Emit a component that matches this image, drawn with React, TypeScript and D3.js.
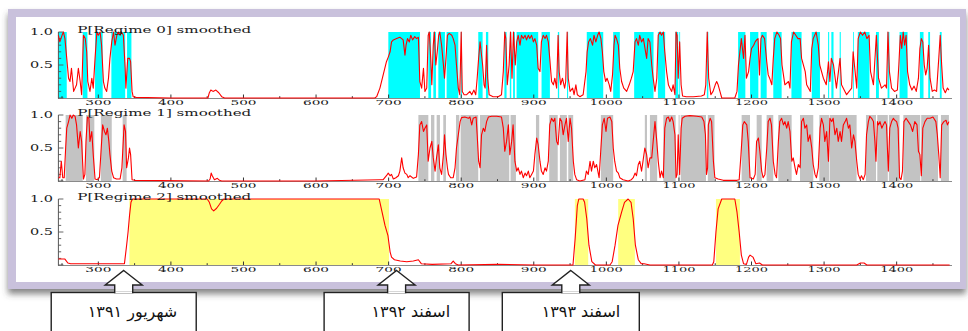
import React from 'react';
import * as d3 from 'd3';

type Pt = [number, number];

const regime0: Pt[] = [[245,.95],[247,.85],[250,.95],[252,1],[254,.9],[256.5,.6],[259,.3],[261,.25],[263,.45],[266,.1],[268,.15],[270,.2],[272.5,.45],[275,.25],[277,.05],[279.5,.95],[282,.9],[284,.7],[285.5,.25],[288.5,.1],[291,.3],[293,.15],[295.5,.6],[298,1],[300,.95],[302.5,1],[304.5,.8],[307,.25],[309,.15],[311.5,.1],[314,.3],[316,.6],[318.5,.85],[321,1],[323,.8],[325.5,.95],[327.5,1],[330,.95],[332,1],[334.5,.95],[337,.45],[338,.15],[340.5,.6],[343,.6],[344.5,.55],[346.5,.1],[348,.02],[352,.01],[400,0],[451,0],[453,.08],[455,.12],[458,.1],[462,.12],[466,.08],[470,.02],[474,0],[600,0],[681,0],
[683.5,.02],[688,.15],[692.5,.35],[697,.55],[699.5,.62],[702,.7],[704,.85],[706.5,.88],[711,.9],[715.5,.92],[718,.9],[720,.88],[722.5,.65],[724,.8],[726,.9],[728.5,.85],[730.5,.95],[733,.88],[736,.93],[738.5,.9],[741,.92],[743,.25],[745.5,.15],[748,.45],[750,.1],[752.5,.15],[754.5,.95],[756,1],[758,.6],[759.5,.2],[761.5,.8],[763,1],[765,.5],[767,.7],[769,.95],[770.5,1],[773,.8],[775.5,.5],[777,.3],[779,.6],[781,.95],[783.5,.98],[787,.95],[789,.9],[791.5,.8],[793.5,.5],[796,.15],[798,.05],[800,1],[801.5,.1],[804,.05],[807.5,.05],[812,.1],[814.5,.05],[817.5,.12],[820,.05],[822,.3],[824,.6],[826,.85],[827.5,.7],[829.5,.5],[831.5,.2],[833,.15],[835,.8],[836.5,.3],[838.5,.05],[844,.02],[851,.02],[855.5,.05],[858,.4],[860,1],[861.5,.9],[863.5,.2],[866,.5],[868,1],[870,.3],[872,1],[874.5,.5],[876.5,.85],[878.5,.95],[881,.8],[883,.95],[885.5,.9],[888,.95],[890,.88],[892.5,.95],[894.5,.9],[897,.95],[899.5,.85],[901.5,.9],[904,.8],[906,.45],[908.5,.4],[910.5,.85],[913,.95],[915.5,.9],[917.5,.95],[920,.85],[922,.6],[924.5,.25],[927,.2],[929,.3],[931.5,.15],[933.5,.95],[935,.4],[937,.2],[939.5,.3],[942.5,.15],[944,.25],[946,1],[947.5,.3],[950,.1],[953.5,.15],[955.5,.05],[958,.2],[960,.05],[963.5,.02],[968,.05],[972,.4],[973.5,.7],[975.5,.85],[978,.9],[981,.8],[983,.95],[985.5,.85],[988,.95],[990,1],[992.5,.9],[994.5,.7],[996.5,.4],[999,.25],[1001,.3],[1004,.2],[1006,.1],[1008.5,.35],[1010.5,.8],[1012,.95],[1014,.9],[1016.5,.8],[1018.5,.45],[1021,.25],[1024,.15],[1028,.1],[1031.5,.2],[1034.5,.3],[1037,.4],[1039.5,.85],[1041.5,.9],[1044,.8],[1046,.95],[1048.5,.85],[1051,.9],[1055.5,.6],[1057.5,.9],[1060,.85],[1062.5,.5],[1064.5,.3],[1067,.1],[1069.5,.3],[1071.5,.95],[1074,1],[1076,.95],[1078.5,1],[1080.5,.7],[1083,.4],[1085.5,.2],[1087.5,.15],[1090,.1],[1092,.2],[1094.5,.05],[1096,1],[1097.5,.95],[1099,.3],[1101,.85],[1103,.2],[1105,.03],[1110,.02],[1120,.02],[1131,.03],[1135,.05],[1137,.2],[1139,1],[1141,.3],[1144,.05],[1147,.1],[1150,.2],[1152,.25],[1154,.2],[1157,.08],[1159,0],[1177,0],[1180,.1],[1182,.5],[1184,.7],[1186,.9],[1189,.6],[1191,.95],[1193,.3],[1196,.4],[1198,.6],[1200,.75],[1203,.8],[1205,.85],[1207,.88],[1209,.9],[1211,.35],[1213,.9],[1215,.95],[1218,.9],[1221,.55],[1223,.35],[1225,.3],[1228,.2],[1230,.6],[1232,.9],[1235,1],[1238,.95],[1240,.9],[1242,.5],[1246,.2],[1251,.25],[1253,.15],[1255,.85],[1258,1],[1261,.95],[1264,.9],[1267,.9],[1269,.6],[1274,.4],[1276,.2],[1281,.1],[1283,.75],[1285,.9],[1289,1],[1292,.8],[1294,.5],[1299,.3],[1303,.2],[1306,.55],[1308,.25],[1310,.6],[1313,.5],[1317,.15],[1322,.6],[1324,.2],[1331,.05],[1338,.15],[1340,.7],[1345,.15],[1347,.9],[1350,1],[1353,.95],[1356,1],[1359,.9],[1362,.95],[1364,.4],[1368,.2],[1372,.95],[1375,.3],[1379,.15],[1384,.2],[1386,.15],[1388,1],[1390,.4],[1393,.15],[1397,.1],[1401,.12],[1403,.5],[1405,.95],[1407,.75],[1409,1],[1411,.8],[1413,.95],[1415,.4],[1418,.2],[1421,.12],[1424,.18],[1427,.1],[1430,.3],[1432,.75],[1434,.9],[1436,.85],[1438,.5],[1440,.35],[1442,.45],[1444,.8],[1446,.3],[1449,.1],[1452,.12],[1455,.1],[1458,.6],[1460,.95],[1462,.5],[1464,.15],[1467,.08],[1470,.15],[1472,.12]];

const regime1: Pt[] = [[245,.05],[247,.05],[249,.3],[251,.05],[253,.05],[255,.5],[256.5,.8],[259,.9],[261,1],[263.5,.95],[265.5,1],[268,.98],[270,.85],[272.5,.5],[275,.75],[277,.6],[279.5,.03],[281.5,.1],[283,.6],[285,.97],[287,.95],[288.5,.6],[291,.75],[293,.4],[295.5,.03],[298.5,.02],[301.5,.05],[304,.5],[306,.85],[308.5,.75],[310.5,.7],[312.5,.8],[314.5,.6],[316,.4],[318.5,.15],[321,.05],[325,.03],[330,.03],[332.5,.2],[335.5,.85],[337.5,.75],[339,.2],[341.5,.35],[343,.5],[344.5,.4],[346.5,.02],[350,.01],[452,0],[454,.03],[455.5,.12],[457,.08],[460,.02],[464,.04],[467,.01],[470,0],[600,0],[688,.02],[692.5,.02],[697,.08],[699.5,.12],[702,.08],[704,.1],[706.5,.03],[710,.05],[713.5,.08],[715.5,.15],[718,.35],[720,.2],[722.5,.12],[725,.1],[727,.05],[729.5,.08],[734,.04],[738.5,.06],[741,.4],[743,.85],[745.5,.9],[748,.75],[750,.8],[752.5,.85],[754.5,.3],[757,.5],[759.5,.6],[761.5,.35],[764,.15],[766,.35],[768.5,.55],[770.5,.2],[773,.1],[775.5,.4],[777,.7],[779,.4],[781,.2],[782.5,.1],[785.5,.05],[789,.05],[791.5,.2],[793.5,.5],[796,.7],[798.5,.9],[800.5,.96],[805,.97],[810,.95],[812,.97],[814.5,.85],[816.5,.95],[820.5,.97],[822,.7],[824,.3],[826,.2],[828,.7],[830.5,.8],[832.5,.75],[835,.9],[837.5,.97],[842,.98],[849,.98],[855.5,.97],[858,.8],[860,.45],[862.5,.6],[865,.85],[867,.4],[869.5,.6],[871.5,.85],[874,.3],[876.5,.15],[878.5,.2],[881,.1],[883,.15],[885.5,.05],[888,.12],[890,.08],[892.5,.15],[894.5,.05],[897,.1],[899.5,.15],[901.5,.4],[904,.65],[906,.55],[908.5,.3],[910.5,.15],[913,.1],[915.5,.2],[917.5,.15],[920,.3],[922,.85],[924.5,.95],[927,.9],[929,.95],[931.5,.6],[933.5,.55],[936,.95],[938.5,.9],[940.5,.7],[943,.85],[945,.95],[947.5,.6],[950,.95],[952,.8],[954.5,.3],[956.5,.1],[959,.02],[963.5,0],[970.5,.02],[972.5,.15],[975,.1],[977.5,.3],[979.5,.15],[982,.3],[984,.2],[986.5,.25],[990,.05],[992.5,.5],[994.5,.85],[997,.95],[999.5,.75],[1001.5,.95],[1005,.97],[1007.5,.9],[1009.5,.5],[1011.5,.3],[1014,.15],[1016.5,.12],[1018.5,.05],[1023,.02],[1030,0],[1034.5,.02],[1037,.05],[1039.5,.12],[1041.5,.08],[1044,.25],[1046,.3],[1048.5,.15],[1050.5,.3],[1053,.5],[1055.5,.4],[1057.5,.2],[1060,.35],[1062.5,.35],[1064.5,.6],[1067,.9],[1069.5,.6],[1071.5,.3],[1074,.05],[1076,.15],[1078.5,.05],[1080.5,.8],[1083,.95],[1085.5,.97],[1087.5,.9],[1090,.97],[1092,.9],[1094.5,.7],[1096,.05],[1097.5,.1],[1099,.7],[1101,.1],[1103,.8],[1104.5,.95],[1108.5,.98],[1115,.99],[1124.5,.98],[1131.5,.97],[1134.5,.9],[1136.5,.7],[1138,.1],[1139.5,.2],[1140.5,.85],[1143,.95],[1145,.9],[1147.5,.3],[1149.5,.05],[1154,.03],[1161,.01],[1180,.01],[1183,.02],[1185.5,.4],[1188,.85],[1190,.9],[1193.5,.85],[1195.5,.6],[1198,.05],[1202.5,.03],[1205,.1],[1207,.6],[1209.5,.65],[1211.5,.45],[1214,.15],[1216,.05],[1218.5,.1],[1221,.5],[1223,.9],[1225.5,.95],[1227.5,.85],[1230,.3],[1232.5,.1],[1234.5,.05],[1237,.6],[1239,.9],[1241.5,.95],[1244,.85],[1246,.9],[1248.5,.8],[1250.5,.9],[1253,.75],[1255.5,.3],[1257.5,.35],[1260,.2],[1262,.1],[1264.5,.25],[1267,.2],[1269,.9],[1271.5,.95],[1273.5,.8],[1276,.85],[1278,.6],[1280.5,.7],[1283,.5],[1285,.25],[1287.5,.1],[1289.5,.05],[1292,.2],[1294.5,.8],[1296.5,.95],[1299,.85],[1301,.6],[1303.5,.75],[1306,.3],[1308,.95],[1310.5,.9],[1312.5,.95],[1315,.7],[1317.5,.8],[1319.5,.6],[1322,.75],[1324,.6],[1326.5,.85],[1329,.9],[1331,.95],[1333.5,.8],[1335.5,.85],[1338,.5],[1340.5,.7],[1342.5,.6],[1345,.3],[1347,.1],[1349.5,.03],[1351.5,.08],[1354,.02],[1356.5,.1],[1358.5,.7],[1361,.9],[1363,.98],[1365.5,.95],[1368,.9],[1370,.6],[1371.5,.3],[1373.5,.9],[1375,.85],[1377,.9],[1379.5,.8],[1381.5,.85],[1384,.9],[1386,.85],[1388.5,.15],[1390.5,.8],[1393,.9],[1395.5,.95],[1397.5,.92],[1400,.9],[1402,.8],[1404,.05],[1406,.02],[1408,.15],[1410,.9],[1413,.95],[1416,.9],[1419,.85],[1422,.75],[1425,.9],[1428,.85],[1430,.45],[1432,.4],[1434,.08],[1436,.8],[1439,.9],[1442,.95],[1446,.95],[1450,.97],[1454,.9],[1456,.7],[1458,.4],[1460,.05],[1462,.85],[1465,.9],[1468,.92],[1470,.85],[1472,.9]];

const regime2: Pt[] = [[245,.09],[254,.09],[258,.03],[262,.02],[300,.02],[336,.02],[339,.3],[341,.5],[343,.75],[345,.95],[347,1],[450,1],[453,.95],[456,.85],[459,.82],[463,.86],[467,.92],[470,.97],[473,1],[687,1],[690,.85],[695,.6],[699,.45],[702,.2],[704,.12],[708,.08],[716,.06],[725,.05],[734,.06],[741,.08],[745,.02],[760,.01],[786,.02],[789,.06],[792,.02],[796,0],[850,.01],[900,0],[954,0],[957,.4],[960,.9],[962,1],[968,1],[970,.95],[973,.7],[976,.3],[980,.05],[985,0],[1005,0],[1008,.05],[1012,.3],[1016,.6],[1021,.8],[1025,.95],[1030,1],[1034,.95],[1037,.7],[1040,.3],[1044,.08],[1048,.02],[1052,.02],[1060,0],[1146,0],[1148,.05],[1151,.5],[1154,.85],[1159,1],[1177,1],[1180,.8],[1183,.5],[1186,.15],[1189,.02],[1193,.01],[1196,.12],[1198,.15],[1202,.12],[1206,.02],[1211,.03],[1215,0],[1345,0],[1350,.03],[1355,.03],[1359,0],[1473,0]];

// classified regime spans (shaded): [from, to]
const shade0: Pt[] = [[245,256.5],[278.5,285],[295.5,306],[318,337],[339.6,345.6],[699.6,743.2],[754.7,758.5],[761.6,765.2],[768.5,777.6],[779.9,796],[799.5,801],[823.5,829.5],[834.1,837.3],[859.5,862.5],[867,869],[871.5,874],[876.3,906.1],[910.7,922.2],[933.2,935],[945.8,947.3],[973,995.7],[1009.4,1018.6],[1038.3,1065],[1071,1081],[1095,1099],[1100.5,1101.5],[1138.5,1140.5],[1181.5,1191.5],[1198,1209.4],[1212.6,1220.9],[1230,1241.5],[1255,1269],[1283,1294.3],[1305.5,1307],[1310,1313],[1321.5,1323],[1340,1341],[1346.5,1362.5],[1371.5,1375.5],[1387.5,1390],[1404,1415],[1432,1437],[1443.5,1446],[1459.5,1462]];
const shade1: Pt[] = [[255,278.5],[283,294.5],[303.5,318.5],[333.5,339],[741,754.7],[758.4,763],[766.2,770.7],[775.3,779],[792.8,797.4],[799.2,823.5],[825.8,866.2],[868,875.4],[903,907.5],[921.3,933],[936,945.5],[947.5,954.3],[992.4,1009.4],[1053,1056],[1060,1070],[1078.5,1095.5],[1099.5,1101],[1102.5,1137.3],[1139.8,1149],[1186.4,1197.9],[1207.1,1214],[1220.8,1230],[1236.9,1255.3],[1266.8,1285.1],[1293.4,1307.2],[1308.1,1344.8],[1357.7,1371.5],[1373.3,1387.8],[1389.3,1404],[1409.2,1432.5],[1433.8,1457],[1461,1472]];
const shade2: Pt[] = [[342.8,700.5],[956.6,975],[1016.3,1039.3],[1151,1184]];

const titles = ['P[Regime 0] smoothed', 'P[Regime 1] smoothed', 'P[Regime 2] smoothed'];
const xTickValues = [300, 400, 500, 600, 700, 800, 900, 1000, 1100, 1200, 1300, 1400];
const yTickLabels = ['0.5', '1.0'];
const calloutDates = [335, 711, 951];
const calloutLabels = ['شهریور ۱۳۹۱', 'اسفند ۱۳۹۲', 'اسفند ۱۳۹۳'];

const W = 968;
const H = 331;
const x = d3.scaleLinear().domain([245, 1475]).range([58.4, 951.1]);
const panelTops = [32, 115, 199];
const panelH = 66;
const shadeColors = ['#00ffff', '#c3c3c3', '#ffff80'];
const serif = "'DejaVu Serif', 'Liberation Serif', serif";

function Panel({ idx, series, shades }: { idx: number; series: Pt[]; shades: Pt[] }) {
  const top = panelTops[idx];
  const y = d3.scaleLinear().domain([0, 1]).range([top + panelH, top]);
  const line = d3.line<Pt>().x(d => x(d[0])).y(d => y(d[1]));
  const y0 = y(0);
  const yTicks = d3.range(0, 11).map(i => i / 10);
  const xMinor = d3.range(250, 1451, 50);
  return (
    <g>
      {shades.map(([a, b], i) => (
        <rect key={i} x={x(a)} y={y(1)} width={Math.max(0.8, x(b) - x(a))} height={y0 - y(1)} fill={shadeColors[idx]} />
      ))}
      <line x1={58} x2={952} y1={y0 + 0.5} y2={y0 + 0.5} stroke="#8a8a8a" strokeWidth={1} />
      <line x1={58.4} x2={58.4} y1={y(1)} y2={y0 + 0.5} stroke="#555" strokeWidth={1} />
      {yTicks.map((v, i) => {
        const major = i === 0 || i === 5 || i === 10;
        return <line key={i} x1={58.4} x2={58.4 + (major ? 5 : 2.8)} y1={y(v)} y2={y(v)} stroke="#555" strokeWidth={0.9} />;
      })}
      {xMinor.map(v => (
        <line key={v} x1={x(v)} x2={x(v)} y1={y0} y2={y0 - (v % 100 === 0 ? 3.5 : 1.8)} stroke="#333" strokeWidth={1} />
      ))}
      <path d={line(series) || ''} fill="none" stroke="#ff0000" strokeWidth={1.1} strokeLinejoin="round" />
      <text x={77.3} y={top + 0.5} fontFamily={serif} fontSize={9} fill="#1a1a1a" textLength={174} lengthAdjust="spacingAndGlyphs">{titles[idx]}</text>
      {xTickValues.map(v => {
        const s = String(v);
        return (
          <text key={v} x={x(v)} y={y0 + 7.2} textAnchor="middle" fontFamily={serif} fontSize={8} fill="#1a1a1a" textLength={s.length === 3 ? 26 : 33} lengthAdjust="spacingAndGlyphs">{s}</text>
        );
      })}
      {yTickLabels.map(s => (
        <text key={s} x={53} y={y(parseFloat(s)) + 3.2} textAnchor="end" fontFamily={serif} fontSize={9} fill="#1a1a1a" textLength={23} lengthAdjust="spacingAndGlyphs">{s}</text>
      ))}
    </g>
  );
}

function Callout({ date, label, width }: { date: number; label: string; width: number }) {
  const tx = x(date);
  const tipY = 270.5, headY = 285, boxY = 292.5;
  const hw = 18.5, sw = 9;
  const pts = [
    [tx, tipY], [tx + hw, headY], [tx + sw, headY], [tx + sw, boxY],
    [tx - sw, boxY], [tx - sw, headY], [tx - hw, headY],
  ].map(p => p.join(',')).join(' ');
  return (
    <g>
      <rect x={tx - width / 2} y={boxY} width={width} height={60} fill="#fff" stroke="#222" strokeWidth={1.4} />
      <polygon points={pts} fill="#fff" stroke="#222" strokeWidth={1.4} strokeLinejoin="miter" />
      <line x1={tx - sw + 0.7} x2={tx + sw - 0.7} y1={boxY} y2={boxY} stroke="#fff" strokeWidth={1.6} />
      <text x={tx + width / 2 - 19} y={317} textAnchor="end" fontFamily="'DejaVu Sans', sans-serif" fontSize={16} fill="#111">{label}</text>
    </g>
  );
}

export default function App() {
  const seriesList = [regime0, regime1, regime2];
  const shadeList = [shade0, shade1, shade2];
  const widths = [145, 145, 137];
  return (
    <svg width={W} height={H} viewBox={`0 0 ${W} ${H}`} style={{ position: 'absolute', left: 0, top: 0, background: '#fff' }}>
      <defs>
        <filter id="frameShadow" x="-5%" y="-5%" width="110%" height="120%">
          <feDropShadow dx="0" dy="5" stdDeviation="3" floodColor="#444" floodOpacity="0.65" />
        </filter>
      </defs>
      <rect x={8} y={9} width={958} height={280} fill="#c9c1dc" filter="url(#frameShadow)" />
      <rect x={16} y={17} width={944} height={265} fill="#ffffff" />
      {seriesList.map((s, i) => (
        <Panel key={i} idx={i} series={s} shades={shadeList[i]} />
      ))}
      {calloutDates.map((d, i) => (
        <Callout key={i} date={d} label={calloutLabels[i]} width={widths[i]} />
      ))}
    </svg>
  );
}
